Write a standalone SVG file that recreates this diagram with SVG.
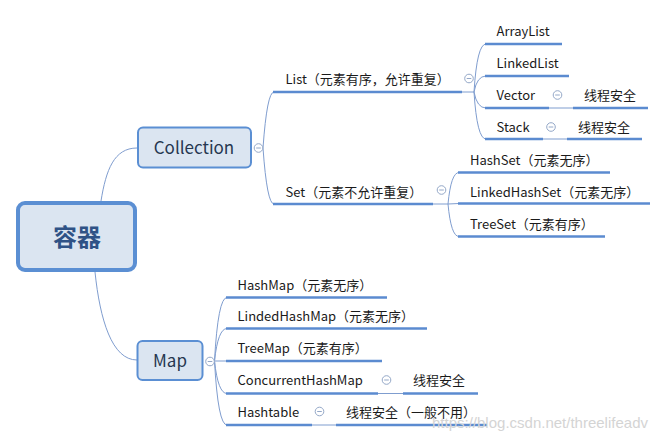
<svg xmlns="http://www.w3.org/2000/svg" xmlns:xlink="http://www.w3.org/1999/xlink" width="668" height="442" viewBox="0 0 668 442">
<style>
.bg{fill:#ffffff}
.box{fill:#dbe5f1;stroke:#5b8fd3;stroke-width:2}
.root{fill:#dbe5f1;stroke:#5b8fd3;stroke-width:4}
.thin{fill:none;stroke:#7f9dcf;stroke-width:1}
.ul{fill:none;stroke:#5b8bd0;stroke-width:2.6}
.t{font-family:"Noto Sans CJK SC","Noto Sans",sans-serif;font-size:13px;fill:#1a1a1a}
.mt{font-family:"Noto Sans CJK SC","Noto Sans",sans-serif;font-size:17px;fill:#263750;text-anchor:middle}
.rt{font-family:"Noto Sans CJK SC",sans-serif;font-size:24px;font-weight:bold;fill:#2f5286;text-anchor:middle}
.wm{font-family:"Liberation Sans",Arial,sans-serif;font-size:15px;fill:#d4d4d4}
.cc{fill:#ffffff;stroke:#94a8c8;stroke-width:1}
.cm{stroke:#94a8c8;stroke-width:1}
</style>
<defs>
<g id="col"><circle class="cc" cx="0" cy="0" r="4.3"/><line class="cm" x1="-2.3" y1="0" x2="2.3" y2="0"/></g>
</defs>
<rect class="bg" x="0" y="0" width="668" height="442"/>
<g id="connectors">
<path class="thin" d="M101 201 C106 170 114 148 137 148"/>
<path class="thin" d="M95 272 C100 320 112 360 137 360"/>
<path class="thin" d="M263 148 Q267 92 274 92"/>
<path class="thin" d="M263 148 Q267 204 274 204"/>
<path class="thin" d="M462 92 L474 92"/>
<path class="thin" d="M474 92 Q477 44 486 44"/>
<path class="thin" d="M474 92 Q477 76 486 76"/>
<path class="thin" d="M474 92 Q477 108 486 108"/>
<path class="thin" d="M474 92 Q477 139 486 139"/>
<path class="thin" d="M549 108 L573 108"/>
<path class="thin" d="M543 139 L567 139"/>
<path class="thin" d="M433 204 L448 204"/>
<path class="thin" d="M448 204 Q451 172.5 459 172.5"/>
<path class="thin" d="M448 204 L459 203.5"/>
<path class="thin" d="M448 204 Q451 236.5 459 236.5"/>
<path class="thin" d="M214.5 361 Q218 297.5 227 297.5"/>
<path class="thin" d="M214.5 361 Q218 328.5 227 328.5"/>
<path class="thin" d="M214.5 361 L227 361"/>
<path class="thin" d="M214.5 361 Q218 393.5 227 393.5"/>
<path class="thin" d="M214.5 361 Q218 425 227 425"/>
<path class="thin" d="M378 393.5 L403 393.5"/>
<path class="thin" d="M312 425 L336 425"/>
</g>
<g id="root"><rect class="root" x="18" y="203" width="117" height="67" rx="7"/><text class="rt" x="77" y="246">容器</text></g>
<g id="collection"><rect class="box" x="138" y="127.5" width="113" height="40" rx="5"/><text class="mt" x="194" y="154">Collection</text><use xlink:href="#col" x="258.5" y="148"/></g>
<g id="map"><rect class="box" x="137.5" y="341" width="65" height="39" rx="5"/><text class="mt" x="170" y="367">Map</text><use xlink:href="#col" x="210" y="361.5"/></g>
<g id="list"><path class="ul" d="M273 92 L462 92"/><text class="t" x="285.5" y="84">List（元素有序，允许重复）</text><use xlink:href="#col" x="469" y="78.5"/></g>
<g id="set"><path class="ul" d="M273 204 L433 204"/><text class="t" x="285.5" y="196.5">Set（元素不允许重复）</text><use xlink:href="#col" x="441.5" y="190"/></g>
<g id="arraylist"><path class="ul" d="M485 44 L562 44"/><text class="t" x="496.5" y="36">ArrayList</text></g>
<g id="linkedlist"><path class="ul" d="M485 76 L569 76"/><text class="t" x="496.5" y="68">LinkedList</text></g>
<g id="vector"><path class="ul" d="M485 108 L549 108"/><text class="t" x="496.5" y="100">Vector</text><use xlink:href="#col" x="557.5" y="95"/></g>
<g id="vector-safe"><path class="ul" d="M573 108 L648 108"/><text class="t" x="584" y="100">线程安全</text></g>
<g id="stack"><path class="ul" d="M485 139 L543 139"/><text class="t" x="496.5" y="132">Stack</text><use xlink:href="#col" x="551" y="127"/></g>
<g id="stack-safe"><path class="ul" d="M567 139 L642 139"/><text class="t" x="578" y="132">线程安全</text></g>
<g id="hashset"><path class="ul" d="M458 172.5 L610 172.5"/><text class="t" x="470" y="165">HashSet（元素无序）</text></g>
<g id="linkedhashset"><path class="ul" d="M458 203.5 L650 203.5"/><text class="t" x="470" y="196.5">LinkedHashSet（元素无序）</text></g>
<g id="treeset"><path class="ul" d="M458 236.5 L605 236.5"/><text class="t" x="470" y="228.5">TreeSet（元素有序）</text></g>
<g id="hashmap"><path class="ul" d="M226 297.5 L387 297.5"/><text class="t" x="237.5" y="289.5">HashMap（元素无序）</text></g>
<g id="lindedhashmap"><path class="ul" d="M226 328.5 L427 328.5"/><text class="t" x="237.5" y="320.5">LindedHashMap（元素无序）</text></g>
<g id="treemap"><path class="ul" d="M226 361 L382 361"/><text class="t" x="237.5" y="352.5">TreeMap（元素有序）</text></g>
<g id="concurrenthashmap"><path class="ul" d="M226 393.5 L378 393.5"/><text class="t" x="237.5" y="385">ConcurrentHashMap</text><use xlink:href="#col" x="386.5" y="380"/></g>
<g id="chm-safe"><path class="ul" d="M403 393.5 L478 393.5"/><text class="t" x="413" y="385">线程安全</text></g>
<g id="hashtable"><path class="ul" d="M226 425 L312 425"/><text class="t" x="237.5" y="417">Hashtable</text><use xlink:href="#col" x="319.5" y="411.5"/></g>
<g id="hashtable-safe"><path class="ul" d="M336 425 L487 425"/><text class="t" x="346" y="417">线程安全（一般不用）</text></g>
<text class="wm" x="432" y="428">https://blog.csdn.net/threelifeadv</text>
</svg>
